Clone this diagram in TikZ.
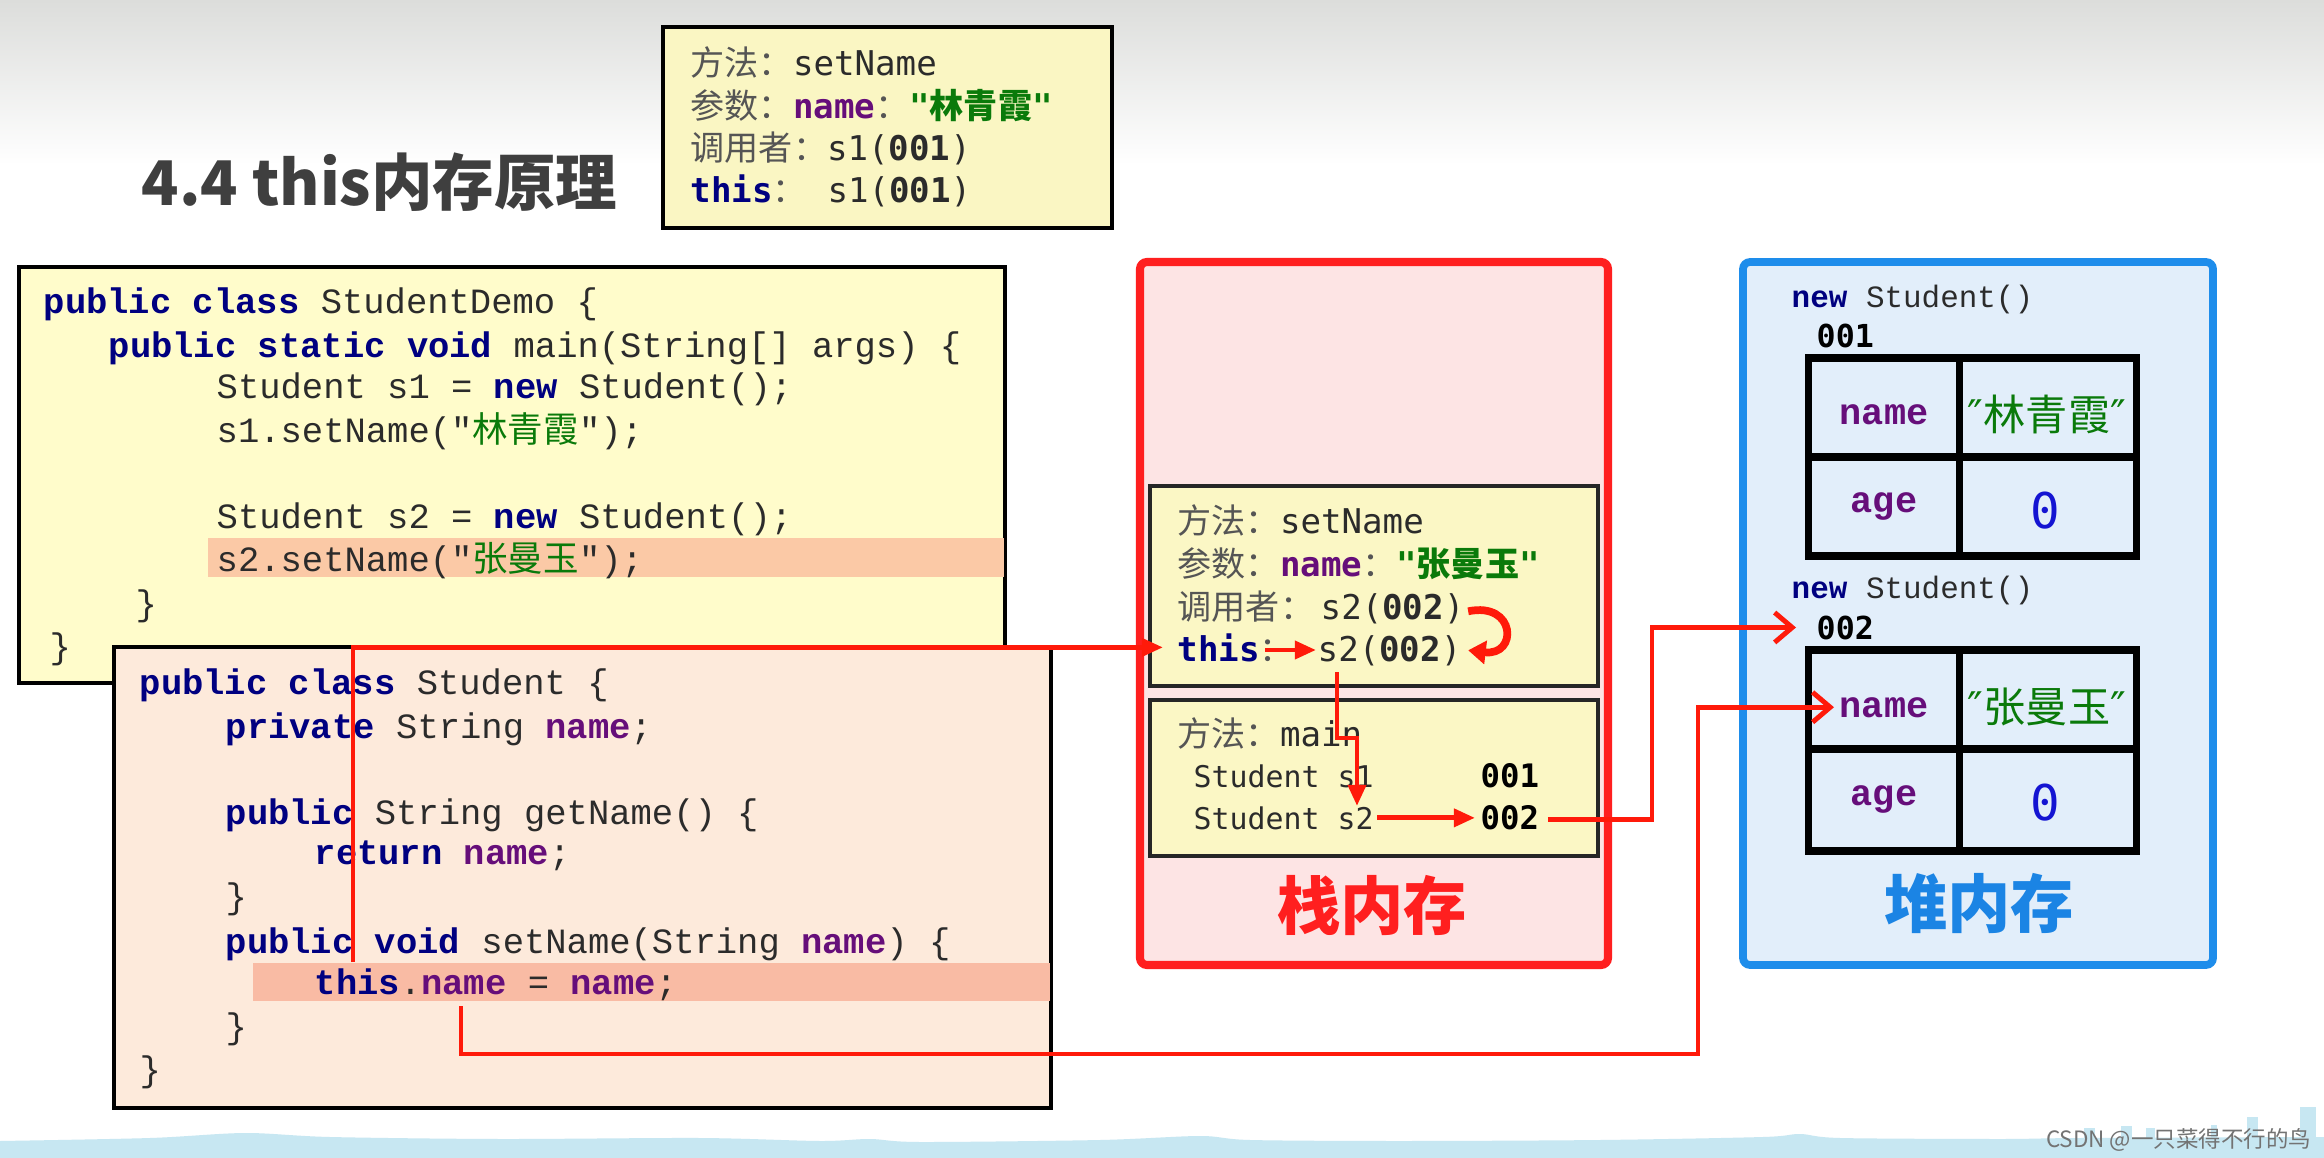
\documentclass[tikz,border=0pt]{standalone}
\usepackage{fontspec}
\setmonofont{Liberation Mono}
\newfontfamily\cjk{Noto Sans CJK SC}
\newfontfamily\dvm{DejaVu Sans Mono}
\newfontfamily\dvs{DejaVu Sans}
\usetikzlibrary{arrows.meta,calc}

\definecolor{bggray}{HTML}{DCDDDB}
\definecolor{codeY}{HTML}{FFFCCB}
\definecolor{topY}{HTML}{FAF6C3}
\definecolor{frameY}{HTML}{FBF7C5}
\definecolor{codeP}{HTML}{FDEADB}
\definecolor{hlA}{HTML}{FBC9A6}
\definecolor{hlB}{HTML}{F9BBA4}
\definecolor{stackF}{HTML}{FDE4E4}
\definecolor{stackR}{HTML}{FF1F1F}
\definecolor{heapF}{HTML}{E2EEFA}
\definecolor{heapB}{HTML}{1E8DEB}
\definecolor{heapL}{HTML}{1B84E4}
\definecolor{kwblue}{HTML}{000080}
\definecolor{nmpurple}{HTML}{660E7A}
\definecolor{strgreen}{HTML}{0A7A0A}
\definecolor{txt}{HTML}{2B2B2B}
\definecolor{zhgray}{HTML}{555555}
\definecolor{arrowR}{HTML}{FF1A0A}
\definecolor{waveB}{HTML}{C7E7F2}
\definecolor{titleC}{HTML}{3F3F3F}
\definecolor{zeroB}{HTML}{1414D2}

\newcommand\mykw[1]{{\bfseries\color{kwblue}#1}}
\newcommand\mynm[1]{{\bfseries\color{nmpurple}#1}}
\newcommand\myzh[1]{{\cjk #1}}
\newcommand\mygz[1]{{\cjk\color{zhgray}#1}}
\newcommand\mygs[1]{{\color{strgreen}\cjk #1}}
\newcommand\codefnt{\ttfamily\fontsize{10.1}{12}\selectfont}
\newcommand\stkfnt{\dvm\fontsize{9.7}{11}\selectfont}

\begin{document}
\begin{tikzpicture}[x=0.01cm,y=-0.01cm,
  code/.style={anchor=base west, inner sep=0, font=\codefnt, text=txt},
  stk/.style={anchor=base west, inner sep=0, font=\stkfnt, text=txt},
  stksm/.style={anchor=base west, inner sep=0, font=\dvm\fontsize{8.5}{10}\selectfont, text=txt},
  stkid/.style={anchor=base west, inner sep=0, font=\dvm\bfseries\fontsize{9.2}{10}\selectfont, text=black},
  hp/.style={anchor=base west, inner sep=0, font=\ttfamily\fontsize{8.8}{10}\selectfont, text=txt},
  hpid/.style={anchor=base west, inner sep=0, font=\dvm\bfseries\fontsize{9}{10}\selectfont, text=black},
  cellk/.style={anchor=base, inner sep=0, font=\ttfamily\bfseries\fontsize{10.5}{12}\selectfont, text=nmpurple},
  cellv/.style={anchor=center, inner sep=0, font=\cjk\fontsize{12}{13}\selectfont, text=strgreen},
  cellz/.style={anchor=center, inner sep=0, font=\dvm\fontsize{14}{15}\selectfont, text=zeroB},
  memlbl/.style={anchor=center, inner sep=0, font=\cjk\bfseries\fontsize{18}{20}\selectfont},
  codebox/.style={draw=black, line width=0.9pt},
  framebox/.style={draw=black!85, line width=1.1pt, fill=frameY},
  tbl/.style={draw=black, line width=2pt},
  ra/.style={draw=arrowR, line width=1.4pt, -{Triangle[length=6pt,width=5pt]}},
  rb/.style={draw=arrowR, line width=1.4pt, -{Straight Barb[length=5pt,width=8.5pt]}},
  rc/.style={draw=arrowR, line width=2.2pt, -{Triangle[length=5pt,width=6.5pt]}}
]
\useasboundingbox (0,0) rectangle (2324,1158);
\fill[white] (0,0) rectangle (2324,1158);
\shade[top color=bggray, bottom color=white] (0,0) rectangle (2324,165);

% bottom decoration
\fill[waveB] plot[smooth] coordinates {(0,1141) (150,1138) (245,1133) (330,1137) (500,1139) (700,1138) (820,1141) (870,1139) (920,1142) (1100,1140) (1200,1136) (1250,1140) (1400,1141) (1600,1140) (1763,1137) (1800,1134) (1840,1138) (2000,1139) (2080,1138) (2324,1137)} -- (2324,1158) -- (0,1158) -- cycle;
\fill[waveB] (2084,1128) rectangle (2095,1158);
\fill[waveB] (2121,1126) rectangle (2132,1158);
\fill[waveB] (2146,1128) rectangle (2155,1158);
\fill[waveB] (2211,1125) rectangle (2217,1158);
\fill[waveB] (2247,1117) rectangle (2258,1158);
\fill[waveB] (2300,1107) rectangle (2316,1158);
\node[anchor=east, inner sep=0, font=\cjk\fontsize{6.4}{7}\selectfont, text=black!55] (wm) at (2312,1140) {CSDN @一只菜得不行的鸟};

% title
\node[anchor=west, inner sep=0, font=\cjk\bfseries\fontsize{17.5}{20}\selectfont, text=titleC] (title) at (141,182) {4.4 this内存原理};

% top box
\draw[codebox, fill=topY] (663,27) rectangle (1112,228);
\node[stk] (t1) at (690,76) {\mygz{方法：}setName};
\node[stk] (t2) at (690,119) {\mygz{参数：}\mynm{name}\mygz{：}{\color{strgreen}\bfseries"\myzh{林青霞}"}};
\node[stk] (t3) at (690,161) {\mygz{调用者：}s1(\textbf{001})};
\node[stk] (t4) at (690,203) {\mykw{this}\mygz{：} s1(\textbf{001})};

% code box 1
\draw[codebox, fill=codeY] (19,267) rectangle (1005,683);
\fill[hlA] (208,538) rectangle (1004,577);
\node[code] (c1) at (43,314) {\mykw{public class} StudentDemo \{};
\node[code] (c2) at (108,358) {\mykw{public static void} main(String[] args) \{};
\node[code] (c3) at (216,399) {Student s1 = \mykw{new} Student();};
\node[code] (c4) at (216,443) {s1.setName("\mygs{林青霞}");};
\node[code] (c5) at (216,528) {Student s2 = \mykw{new} Student();};
\node[code] (c6) at (216,571) {s2.setName("\mygs{张曼玉}");};
\node[code] (c7) at (135,616) {\}};
\node[code] (c8) at (49,658) {\}};

% code box 2
\draw[codebox, fill=codeP] (114,647) rectangle (1051,1108);
\fill[hlB] (253,963) rectangle (1050,1001);
\node[code] (d1) at (139,694) {\mykw{public class} Student \{};
\node[code] (d2) at (225,738) {\mykw{private} String \mynm{name};};
\node[code] (d3) at (225,824) {\mykw{public} String getName() \{};
\node[code] (d4) at (314,864) {\mykw{return} \mynm{name};};
\node[code] (d5) at (225,908) {\}};
\node[code] (d6) at (225,953) {\mykw{public void} setName(String \mynm{name}) \{};
\node[code] (d7) at (314,994) {\mykw{this}.\mynm{name} = \mynm{name};};
\node[code] (d8) at (225,1038) {\}};
\node[code] (d9) at (139,1081) {\}};

% stack memory
\draw[draw=stackR, line width=2.3pt, fill=stackF, rounded corners=2] (1140,262) rectangle (1608,965);
\draw[framebox] (1150,486) rectangle (1598,686);
\draw[framebox] (1150,700) rectangle (1598,856);
\node[stk] (f1) at (1177,534) {\mygz{方法：}setName};
\node[stk] (f2) at (1177,576) {\mygz{参数：}\mynm{name}\mygz{：}{\color{strgreen}\bfseries"\myzh{张曼玉}"}};
\node[stk] (f3) at (1177,619) {\mygz{调用者：}};
\node[stk] (callS2) at (1320,619) {s2(\textbf{002})};
\node[stk] (thisS) at (1177,661) {\mykw{this}\mygz{：}};
\node[stk] (thisS2) at (1317,661) {s2(\textbf{002})};
\node[stk] (m1) at (1177,746) {\mygz{方法：}main};
\node[stksm] (ms1) at (1193,787) {Student s1};
\node[stkid] (m001) at (1480,787) {001};
\node[stksm] (ms2) at (1193,829) {Student s2};
\node[stkid] (m002) at (1480,829) {002};
\node[memlbl, text=stackR] (stacklbl) at (1372,905) {栈内存};

% heap memory
\draw[draw=heapB, line width=2.2pt, fill=heapF, rounded corners=2] (1743,262) rectangle (2213,965);
\node[hp] (hn1) at (1791,308) {\mykw{new} Student()};
\node[hpid] (h001) at (1816,348) {001};
\draw[tbl] (1808,358) rectangle (2136,556);
\draw[tbl] (1959,358) -- (1959,556);
\draw[tbl] (1808,457) -- (2136,457);
\node[cellk] (hname1) at (1884,425) {name};
\node[cellv] (hval1) at (2047,414) {{\dvs ″}林青霞{\dvs ″}};
\node[cellk] (hage1) at (1884,513) {age};
\node[cellz] (hzero1) at (2045,511) {0};
\node[hp] (hn2) at (1791,598) {\mykw{new} Student()};
\node[hpid] (h002) at (1816,639) {002};
\draw[tbl] (1808,650) rectangle (2136,851);
\draw[tbl] (1959,650) -- (1959,851);
\draw[tbl] (1808,749) -- (2136,749);
\node[cellk] (hname2) at (1884,717) {name};
\node[cellv] (hval2) at (2047,707) {{\dvs ″}张曼玉{\dvs ″}};
\node[cellk] (hage2) at (1884,805) {age};
\node[cellz] (hzero2) at (2045,803) {0};
\node[memlbl, text=heapL] (heaplbl) at (1979,903) {堆内存};

% connectors
\coordinate (a1s) at (353,962);
\draw[ra] (a1s) |- ($(thisS.west)+(-14,0)$);
\coordinate (a2s) at (1265,650);
\draw[ra] (a2s) -- ($(thisS2.west |- a2s)+(-1,0)$);
\coordinate (a3s) at ($(callS2.east)+(3,3)$);
\coordinate (a3e) at ($(thisS2.east)+(6,0)$);
\draw[rc] (a3s) .. controls ($(a3s)+(48,-10)$) and ($(a3e)+(50,6)$) .. (a3e);
\coordinate (a4s) at (1337,672);
\coordinate (a4m) at (1357,738);
\coordinate (a4e) at (1357,806);
\draw[ra] (a4s) |- (a4m) -- (a4e);
\draw[ra] ($(ms2.east)+(3,0)$) -- ($(m002.west |- ms2.east)+(-5,0)$);
\coordinate (a6m) at (1652,700);
\draw[rb] ($(m002.east)+(8,2)$) -| (a6m) |- ($(h002.west)+(-20,0)$);
\coordinate (a7s) at (461,1006);
\coordinate (a7m) at (1698,1054);
\draw[rb] (a7s) |- (a7m) |- ($(hname2.west)+(-5,0)$);
\end{tikzpicture}
\end{document}
